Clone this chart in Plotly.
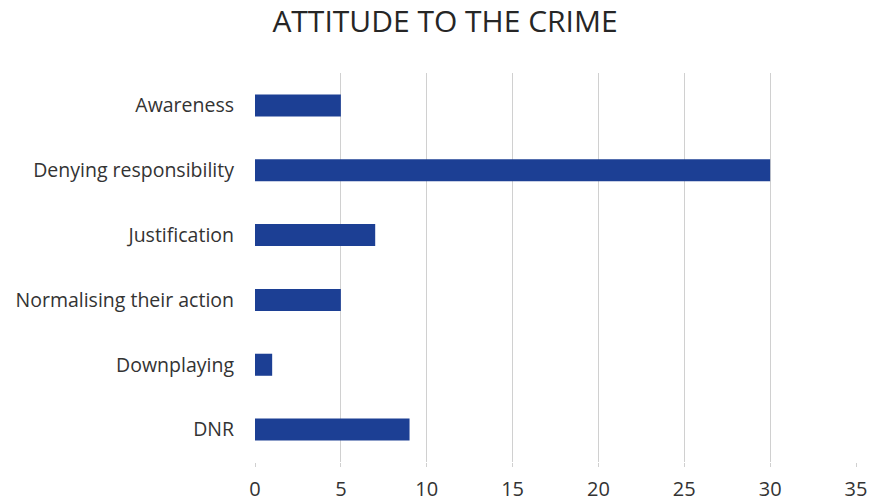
import plotly.graph_objects as go

categories = ["Awareness", "Denying responsibility", "Justification",
              "Normalising their action", "Downplaying", "DNR"]
values = [5, 30, 7, 5, 1, 9]
x_ticks = [0, 5, 10, 15, 20, 25, 30, 35]

fig = go.Figure(go.Bar(
    y=categories, x=values, orientation="h",
    marker=dict(color="#1c3f94", line=dict(width=0)),
))

fig.update_layout(
    width=870, height=502,
    paper_bgcolor="white", plot_bgcolor="white",
    margin=dict(l=255, r=14, t=73, b=40),
    bargap=0.66,
    showlegend=False,
    title=dict(text="ATTITUDE TO THE CRIME", x=445/870, xanchor="center",
               y=1 - 21/502, yanchor="middle",
               font=dict(family="Open Sans", size=30, color="#262626")),
    font=dict(family="Open Sans", color="#404040"),
)
fig.update_xaxes(
    range=[0, 35], tickvals=x_ticks, showgrid=True, gridcolor="#d0d0d0",
    gridwidth=1, zeroline=False, showline=False, automargin=False,
    ticks="outside", ticklen=4, tickcolor="#d0d0d0",
    tickfont=dict(size=20, color="#333333"), ticklabelstandoff=5,
)
fig.update_yaxes(
    categoryorder="array", categoryarray=categories, autorange="reversed",
    showgrid=False, zeroline=False, showline=False, automargin=False,
    tickfont=dict(size=19.5, color="#333333"), ticklabelstandoff=20,
)

fig.write_html("out.html")
